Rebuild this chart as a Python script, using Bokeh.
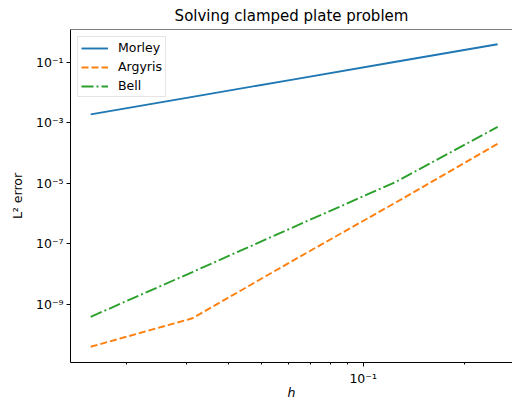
from bokeh.plotting import figure
from bokeh.models import FixedTicker, CustomJSTickFormatter, Span, Range1d
from bokeh.embed import file_html
from bokeh.resources import INLINE

# Data
h = [1/64, 1/32, 1/16, 1/8, 1/4]
morley = [1.87e-3, 7.1e-3, 2.7e-2, 1.03e-1, 0.39]
argyris = [3.9e-11, 3.4e-10, 2.9e-8, 2.3e-6, 2.0e-4]
bell = [3.8e-10, 1.15e-8, 3.6e-7, 1.1e-5, 7.2e-4]

x_major = [0.1]
x_minor = [0.02, 0.03, 0.04, 0.05, 0.06, 0.07, 0.08, 0.09, 0.2]
y_major = [1e-1, 1e-3, 1e-5, 1e-7, 1e-9]

FONT = "DejaVu Sans"

y_lo, y_hi = 10 ** -10.93, 10 ** 0.078
p = figure(width=512, height=403, x_axis_type="log", y_axis_type="log",
           x_range=Range1d(10 ** -1.866, 10 ** -0.558),
           y_range=Range1d(y_lo, y_hi),
           output_backend="svg", toolbar_location=None,
           title="Solving clamped plate problem",
           min_border_left=70, min_border_right=0,
           min_border_top=29, min_border_bottom=41)

p.title.text_font = FONT
p.title.text_font_size = "15px"
p.title.text_font_style = "normal"
p.title.text_color = "black"
p.title.align = "center"
p.title.offset = 2
p.title.standoff = 9

p.line(h, morley, line_color="#1f77b4", line_width=1.9, legend_label="Morley")
p.line(h, argyris, line_color="#ff7f0e", line_width=1.9, line_dash="7 3",
       legend_label="Argyris")
p.line(h, bell, line_color="#2ca02c", line_width=1.9, line_dash="12 3 2 3",
       legend_label="Bell")

fmt = CustomJSTickFormatter(code="""
const sup = {'-':'\u207b','0':'\u2070','1':'\u00b9','2':'\u00b2','3':'\u00b3','4':'\u2074',
             '5':'\u2075','6':'\u2076','7':'\u2077','8':'\u2078','9':'\u2079'};
const e = Math.round(Math.log10(tick));
return '10' + String(e).split('').map(c => sup[c]).join('');
""")

p.xaxis.ticker = FixedTicker(ticks=x_major, minor_ticks=x_minor)
p.yaxis.ticker = FixedTicker(ticks=y_major, minor_ticks=[])
for ax in (p.xaxis, p.yaxis):
    ax.formatter = fmt
    ax.axis_line_color = "black"
    ax.major_tick_line_color = "black"
    ax.minor_tick_line_color = "black"
    ax.major_tick_out = 4
    ax.major_tick_in = 0
    ax.minor_tick_out = 2
    ax.minor_tick_in = 0
    ax.major_label_text_font = FONT
    ax.major_label_text_font_size = "12.5px"
    ax.major_label_text_color = "black"
    ax.axis_label_text_font = FONT
    ax.axis_label_text_font_size = "12.5px"
    ax.axis_label_text_color = "black"

p.xaxis.axis_label = "h"
p.xaxis.axis_label_text_font_style = "italic"
p.xaxis.major_label_standoff = 4
p.xaxis.axis_label_standoff = -4
p.yaxis.axis_label = "L\u00b2 error"
p.yaxis.axis_label_text_font_style = "normal"
p.yaxis.major_label_standoff = 3
p.yaxis.axis_label_standoff = 8

p.xgrid.visible = False
p.ygrid.visible = False
p.outline_line_color = None
p.add_layout(Span(location=y_hi, dimension="width", line_color="black", line_width=1))

lg = p.legend[0]
lg.location = "top_left"
lg.margin = 7
lg.padding = 3
lg.spacing = 4
lg.label_height = 14
lg.glyph_height = 14
lg.glyph_width = 27
lg.label_standoff = 10
lg.border_line_color = "#cccccc"
lg.background_fill_alpha = 0.8
lg.label_text_font = FONT
lg.label_text_font_size = "12.5px"
lg.label_text_color = "black"

open("out.html", "w").write(file_html(p, INLINE))
